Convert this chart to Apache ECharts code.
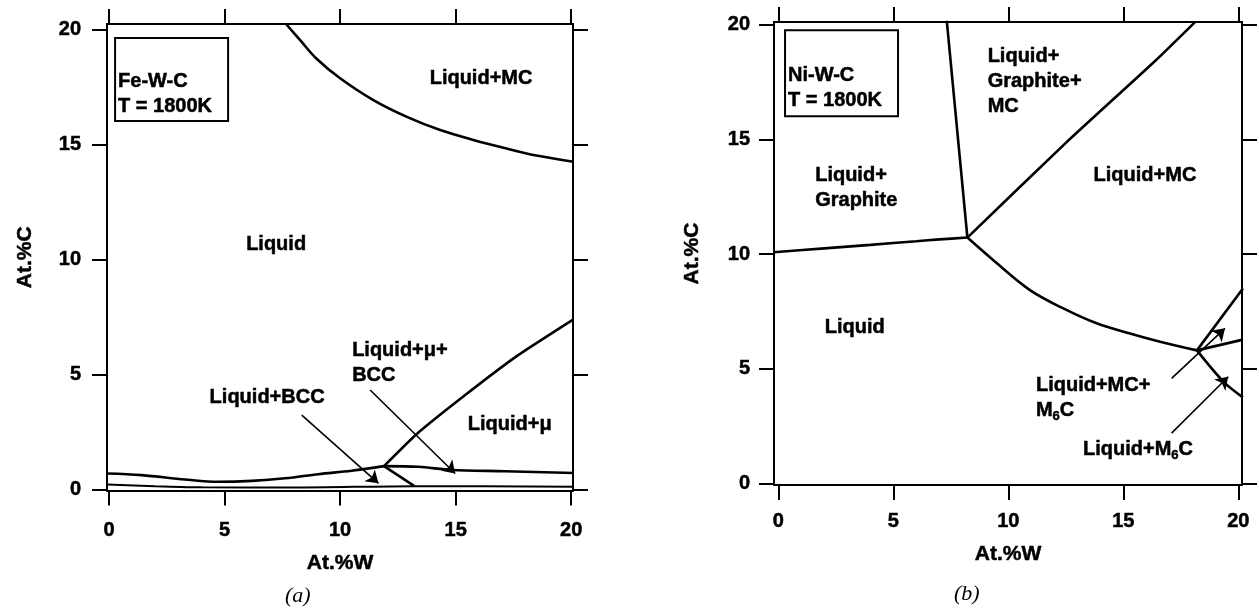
<!DOCTYPE html>
<html>
<head>
<meta charset="utf-8">
<script src="https://cdn.jsdelivr.net/npm/echarts@6/dist/echarts.min.js"></script>
<style>
  html, body { margin: 0; padding: 0; background: #fff; }
  #chart { width: 1259px; height: 614px; }
</style>
</head>
<body>
<div id="chart"></div>
<script>
// Isothermal sections at 1800 K: (a) Fe-W-C, (b) Ni-W-C. Axes in at.% W / at.% C.
const TICKS = [0, 5, 10, 15, 20];

// ---- (a) Fe-W-C phase boundaries [at.%W, at.%C]
const feLiqMc   = [[7.66, 20.24], [8.27, 19.54], [8.97, 18.74], [10.0, 17.88], [11.44, 16.93], [12.89, 16.2], [14.33, 15.63], [15.77, 15.2], [17.2, 14.83], [18.5, 14.52], [20.1, 14.25]];
const feLiqBcc  = [[-0.1, 0.70], [1.41, 0.63], [3.29, 0.44], [4.73, 0.34], [6.18, 0.38], [7.62, 0.49], [9.06, 0.67], [10.5, 0.82], [11.9, 1.02]];
const feMuBcc   = [[11.9, 1.02], [13.39, 0.99], [14.83, 0.85], [17.14, 0.80], [20.1, 0.72]];
const feLiqMu   = [[11.9, 1.02], [13.32, 2.42], [15.4, 4.1], [17.6, 5.77], [20.1, 7.4]];
const feBccMu   = [[11.9, 1.02], [13.2, 0.16]];
const feSolidus = [[-0.1, 0.22], [2, 0.15], [4, 0.10], [8, 0.09], [13.2, 0.15], [20.1, 0.12]];
const feArrows  = [[[8.34, 3.24], [11.66, 0.27]], [[11.3, 4.33], [14.98, 0.70]]];
const feLabels  = [
  { text: 'Liquid+MC', x: 16.1, y: 17.89 },
  { text: 'Liquid', x: 7.23, y: 10.67 },
  { text: 'Liquid+μ+\nBCC', x: 10.52, y: 5.52, align: 'left' },
  { text: 'Liquid+BCC', x: 6.84, y: 4.02 },
  { text: 'Liquid+μ', x: 17.34, y: 2.85 }
];
const feTitle = { text: 'Fe-W-C\nT = 1800K', x: 0.26, y: 19.63 };

// ---- (b) Ni-W-C phase boundaries [at.%W, at.%C]
const niGrLiq   = [[-0.2, 10.08], [2, 10.25], [4, 10.4], [6, 10.56], [7, 10.64], [8.22, 10.72]];
const niGrGrMc  = [[7.32, 20.2], [8.22, 10.72]];
const niGrMcMc  = [[8.22, 10.72], [12.5, 14.85], [16.38, 18.42], [18.15, 20.15]];
const niLiqMc   = [[8.22, 10.72], [9.5, 9.6], [10.94, 8.43], [12.39, 7.63], [13.84, 6.98], [15.29, 6.54], [16.6, 6.18], [18.2, 5.8]];
const niMcM6c   = [[18.2, 5.8], [20.2, 8.5]];
const niM6cTie  = [[18.2, 5.8], [20.2, 6.27]];
const niLiqM6c  = [[18.2, 5.8], [19.35, 4.44], [20.2, 3.75]];
const niArrows  = [[[17.1, 4.58], [19.42, 6.76]], [[17.1, 2.19], [19.56, 4.65]]];
const niLabels  = [
  { text: 'Liquid+\nGraphite', x: 1.6, y: 12.9, align: 'left' },
  { text: 'Liquid+\nGraphite+\nMC', x: 9.1, y: 17.51, align: 'left' },
  { text: 'Liquid+MC', x: 15.94, y: 13.42 },
  { text: 'Liquid', x: 3.32, y: 6.79 },
  { text: '{t|Liquid+MC+}\n{t|M}{s|6}{t|C}', x: 11.2, y: 3.72, align: 'left' },
  { text: '{t|Liquid+M}{s|6}{t|C}', x: 15.64, y: 1.48 }
];
const niTitle = { text: 'Ni-W-C\nT = 1800K', x: 0.29, y: 19.76 };

const FONT = "'Liberation Sans', Arial, Helvetica, sans-serif";
const BLACK = '#000';
// thin outline in the text colour gives the heavy, print-like lettering
const HEAVY = { color: BLACK, textBorderColor: BLACK, textBorderWidth: 0.5 };

function axis(gridIndex, position, range, opts) {
  const horizontal = position === 'bottom' || position === 'top';
  return {
    type: 'value', gridIndex, position, min: range[0], max: range[1],
    axisLine: { show: true, onZero: false, lineStyle: { color: BLACK, width: 2 } },
    axisTick: { show: true, inside: false, length: 15, customValues: TICKS, lineStyle: { color: BLACK, width: 2 } },
    axisLabel: Object.assign({
      show: !!opts.labels, customValues: TICKS, margin: opts.margin || 8,
      fontFamily: FONT, fontWeight: 'bold', fontSize: 20
    }, HEAVY),
    splitLine: { show: false },
    name: opts.name || '', nameLocation: 'middle', nameGap: opts.nameGap || 0,
    nameRotate: horizontal ? 0 : 90, nameMoveOverlap: false,
    nameTextStyle: Object.assign({ fontFamily: FONT, fontWeight: 'bold', fontSize: 21 }, HEAVY)
  };
}

function boundary(xi, yi, pts, smooth, width) {
  return {
    type: 'line', xAxisIndex: xi, yAxisIndex: yi, data: pts, showSymbol: false, symbol: 'none',
    smooth: smooth || 0, silent: true, clip: true,
    lineStyle: { color: BLACK, width: width || 2.6 }, z: 3
  };
}

function arrows(xi, yi, list) {
  return {
    type: 'lines', coordinateSystem: 'cartesian2d', xAxisIndex: xi, yAxisIndex: yi, silent: true,
    symbol: ['none', 'arrow'], symbolSize: 12,
    lineStyle: { color: BLACK, width: 1.6, opacity: 1 },
    data: list.map(c => ({ coords: c })), z: 4
  };
}

const RICH = {
  t: Object.assign({ fontFamily: FONT, fontWeight: 'bold', fontSize: 20, lineHeight: 25 }, HEAVY),
  s: Object.assign({ fontFamily: FONT, fontWeight: 'bold', fontSize: 13, padding: [11, 0, 0, 0], lineHeight: 25 }, HEAVY)
};

function labels(xi, yi, items, title, titlePad) {
  const data = items.map(it => ({
    value: [it.x, it.y],
    label: Object.assign({ formatter: it.text, align: it.align || 'center', verticalAlign: 'middle' }, HEAVY)
  }));
  data.push({
    value: [title.x, title.y],
    label: Object.assign({
      formatter: title.text, align: 'left', verticalAlign: 'top',
      borderColor: BLACK, borderWidth: 2, padding: titlePad, width: 108, lineHeight: 25
    }, HEAVY)
  });
  return {
    type: 'scatter', xAxisIndex: xi, yAxisIndex: yi, symbolSize: 1, silent: true,
    itemStyle: { color: 'transparent', opacity: 1 },
    label: Object.assign({
      show: true, position: 'inside', fontFamily: FONT, fontWeight: 'bold',
      fontSize: 20, lineHeight: 25, rich: RICH
    }, HEAVY),
    data, z: 6
  };
}

const chart = echarts.init(document.getElementById('chart'), null, { renderer: 'canvas' });

chart.setOption({
  backgroundColor: '#fff',
  animation: false,
  grid: [
    { left: 107, top: 24, width: 466, height: 466.5, containLabel: false, outerBoundsMode: 'none' },
    { left: 774, top: 22, width: 468, height: 463, containLabel: false, outerBoundsMode: 'none' }
  ],
  xAxis: [
    axis(0, 'bottom', [-0.09, 20.08], { labels: true, margin: 30, name: 'At.%W', nameGap: 62 }),
    axis(0, 'top', [-0.09, 20.08], {}),
    axis(1, 'bottom', [-0.19, 20.16], { labels: true, margin: 26, name: 'At.%W', nameGap: 59 }),
    axis(1, 'top', [-0.19, 20.16], {})
  ],
  yAxis: [
    axis(0, 'left', [-0.04, 20.24], { labels: true, margin: 26, name: 'At.%C', nameGap: 71 }),
    axis(0, 'right', [-0.04, 20.24], {}),
    axis(1, 'left', [-0.07, 20.12], { labels: true, margin: 24, name: 'At.%C', nameGap: 71 }),
    axis(1, 'right', [-0.07, 20.12], {})
  ],
  graphic: [
    { type: 'text', left: 299 - 14, top: 585, style: { text: '(a)', fill: BLACK, font: "italic 22px 'Liberation Serif', 'Times New Roman', serif" } },
    { type: 'text', left: 968 - 14, top: 583, style: { text: '(b)', fill: BLACK, font: "italic 22px 'Liberation Serif', 'Times New Roman', serif" } }
  ],
  series: [
    boundary(0, 0, feLiqMc, 0.35),
    boundary(0, 0, feLiqBcc, 0.35),
    boundary(0, 0, feMuBcc, 0.3),
    boundary(0, 0, feLiqMu, 0.2),
    boundary(0, 0, feBccMu, 0),
    boundary(0, 0, feSolidus, 0.3, 2),
    arrows(0, 0, feArrows),
    labels(0, 0, feLabels, feTitle, [31, 2, 2, 3]),

    boundary(2, 2, niGrLiq, 0.3),
    boundary(2, 2, niGrGrMc, 0),
    boundary(2, 2, niGrMcMc, 0.2),
    boundary(2, 2, niLiqMc, 0.35),
    boundary(2, 2, niMcM6c, 0),
    boundary(2, 2, niM6cTie, 0),
    boundary(2, 2, niLiqM6c, 0.3),
    arrows(2, 2, niArrows),
    labels(2, 2, niLabels, niTitle, [33, 2, 3, 3])
  ]
});
</script>
</body>
</html>
